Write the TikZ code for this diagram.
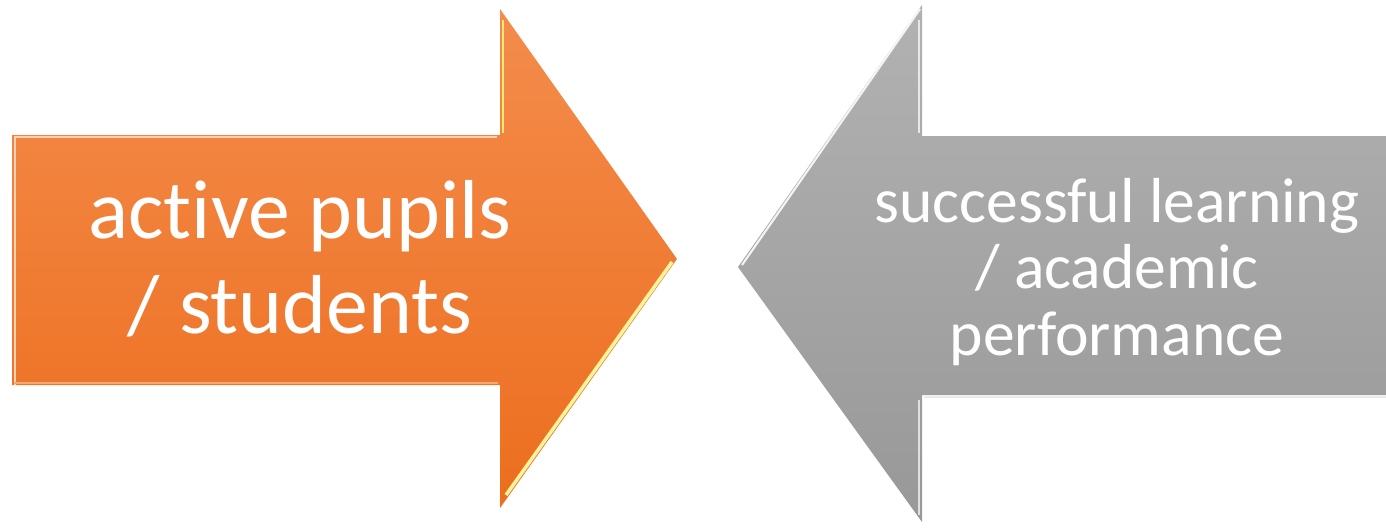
\documentclass[tikz,border=0pt]{standalone}
\usepackage{fontspec}
\setmainfont{Carlito}[Ligatures=NoCommon]
\definecolor{orangetop}{RGB}{244,140,76}
\definecolor{orangebot}{RGB}{236,110,30}
\definecolor{greytop}{RGB}{178,178,178}
\definecolor{greybot}{RGB}{152,152,152}
\tikzset{
	bigtext/.style = {text = white, align = center, anchor = base, inner sep = 0pt,
		font = \fontsize{47.6}{53.9}\selectfont},
	smalltext/.style = {text = white, align = center, anchor = base, inner sep = 0pt,
		font = \fontsize{36.2}{37.6}\selectfont},
	bevel/.style = {line width = 1.2pt, line join = round}
}
\begin{document}
\begin{tikzpicture}[x=0.02cm, y=-0.02cm]
	\useasboundingbox (0,0) rectangle (1386,528);
	% right arrow
	\shade[top color = orangetop, bottom color = orangebot]
		(12,135) -- (500,135) -- (500,9) -- (677,259) -- (500,508) -- (500,385) -- (12,385) -- cycle;
	\draw[bevel, orangetop!40!white]	(15,385) -- (15,137) -- (497,137);
	\draw[bevel, orangetop!30!yellow!60!white]	(503,20) -- (503,133);
	\draw[bevel, orangebot!20!yellow!40!white, line width = 2pt]	(506,495) -- (672,262);
	\draw[bevel, orangebot!60!white]	(14,383) -- (498,383);
	% left arrow
	\shade[top color = greytop, bottom color = greybot]
		(1386,136) -- (922,136) -- (922,5) -- (738,267) -- (922,522) -- (922,395) -- (1386,395) -- cycle;
	\draw[bevel, white!85!greytop]	(920,9) -- (742,265);
	\draw[bevel, white!70!greytop]	(919,20) -- (919,133);
	\draw[bevel, white!70!greybot]	(919,400) -- (919,515);
	\draw[bevel, white!80!greybot]	(924,397) -- (1386,397);
	\node (Pupils) at (300,333)	[bigtext]	{active pupils\\/ students};
	\node (Perf) at (1117,355)	[smalltext]	{successful learning\\/ academic\\performance};
\end{tikzpicture}
\end{document}
